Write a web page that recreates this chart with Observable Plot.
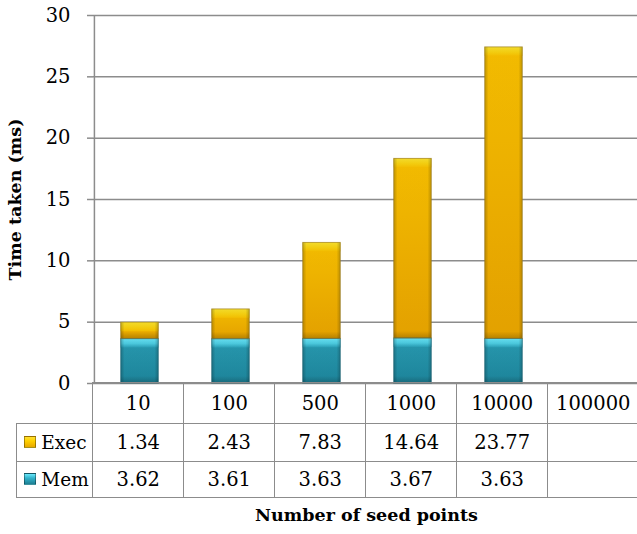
<!DOCTYPE html>
<html>
<head>
<meta charset="utf-8">
<script src="https://cdn.jsdelivr.net/npm/d3@7"></script>
<script src="https://cdn.jsdelivr.net/npm/@observablehq/plot@0.6"></script>
<style>
  body { margin: 0; background: #fff; overflow: hidden; font-family: "DejaVu Serif", serif; color: #000; }
  #wrap { position: relative; width: 637px; height: 534px; overflow: hidden; background: #fff; }
  #chart { position: absolute; left: 0; top: 0; }
  table.data { position: absolute; border-collapse: collapse; table-layout: fixed; font-size: 19.5px; font-family: "DejaVu Serif", serif; }
  table.data td { border: 1.5px solid #8c8c8c; text-align: center; padding: 0; white-space: nowrap; }
  table.data td.corner { border-top: none; border-left: none; }
  table.data td.key { text-align: left; padding-left: 7px; font-size: 18.5px; }
  .swatch { display: inline-block; width: 10px; height: 10px; margin-right: 5px; vertical-align: 1px; border: 1px solid rgba(0,0,0,0.35); }
  .swatch.Exec { background: linear-gradient(#ffe030 0%, #ffd000 40%, #e8a800 100%); }
  .swatch.Mem { background: linear-gradient(#6ae8fb 0%, #33b4cc 40%, #1d7f93 100%); }
  #xtitle { position: absolute; font-weight: bold; font-size: 17.5px; text-align: center; font-family: "DejaVu Serif", serif; }
</style>
</head>
<body>
<div id="wrap"><div id="chart"></div></div>
<script>
// Seed-point counts along the x axis
const categories = ["10", "100", "500", "1000", "10000", "100000"];
// Time split per run (ms); the largest count has no measurement
const execValues = [1.34, 2.43, 7.83, 14.64, 23.77, null];
const memValues = [3.62, 3.61, 3.63, 3.67, 3.63, null];
// Stacking order from the bottom up, and the legend order of the table rows
const stackOrder = ["Mem", "Exec"];
const tableRows = ["Exec", "Mem"];
const yTicks = [0, 5, 10, 15, 20, 25, 30];
const yTitle = "Time taken (ms)";
const xTitle = "Number of seed points";

const seriesValues = { Exec: execValues, Mem: memValues };

// Long-format rows with the running stack bounds of each segment
const rows = [];
categories.forEach((cat, i) => {
  let base = 0;
  for (const s of stackOrder) {
    const v = seriesValues[s][i];
    if (v == null) continue;
    rows.push({ cat, series: s, value: v, bottom: base, top: base + v });
    base += v;
  }
});

const grey = "#8c8c8c";
const inset = 26.7;
const fontFamily = "'DejaVu Serif', serif";

// Gradient definitions for the bevelled bar look
const defs = () => {
  const d = d3.create("svg:defs");
  const grad = (id, stops, vertical) => {
    const g = d.append("linearGradient").attr("id", id)
      .attr("x1", 0).attr("y1", 0).attr("x2", vertical ? 0 : 1).attr("y2", vertical ? 1 : 0);
    for (const [o, c, a = 1] of stops) g.append("stop").attr("offset", o).attr("stop-color", c).attr("stop-opacity", a);
  };
  grad("body-Exec", [[0, "#ffc500"], [1, "#efa900"]], true);
  grad("body-Mem", [[0, "#2aa0b8"], [1, "#1e8aa1"]], true);
  grad("top-Exec", [[0, "#ffe62e"], [0.55, "#ffd812"], [1, "#ffc600"]], true);
  grad("top-Mem", [[0, "#6ae9fc"], [0.55, "#4fd2e8"], [1, "#2aa3bb"]], true);
  grad("sides", [[0, "#000", 0.25], [0.1, "#000", 0.05], [0.9, "#000", 0.05], [1, "#000", 0.25]], false);
  grad("base", [[0, "#000", 0.0], [1, "#000", 0.2]], true);
  return d.node();
};

const chart = Plot.plot({
  width: 637,
  height: 400,
  marginTop: 15,
  marginBottom: 17,
  marginLeft: 93,
  marginRight: 0,
  style: { fontFamily, fontSize: "19px", color: "#000", background: "transparent" },
  x: { type: "band", domain: categories, range: [93, 640], padding: 0, axis: null },
  y: { domain: [0, 30], label: null },
  marks: [
    defs,
    Plot.gridY(yTicks, { stroke: grey, strokeOpacity: 1, strokeWidth: 1.5 }),
    Plot.axisY(yTicks, {
      tickSize: 6, tickPadding: 17, stroke: grey, strokeWidth: 1.5, fill: "#000",
      fontSize: 19.5, label: null, tickFormat: d => String(d)
    }),
    Plot.ruleX([0], { x: () => categories[0], dx: -(640 - 93) / categories.length / 2, stroke: grey, strokeWidth: 1.5 }),
    // Segment bodies
    Plot.barY(rows, {
      x: "cat", y1: "bottom", y2: "top",
      fill: d => `url(#body-${d.series})`,
      insetLeft: inset, insetRight: inset
    }),
    // Bright bevel strip along the top of each segment
    Plot.barY(rows, {
      x: "cat", y1: "top", y2: "top", fill: d => `url(#top-${d.series})`,
      insetLeft: inset, insetRight: inset, insetBottom: -9
    }),
    // Shade along the foot of each segment
    Plot.barY(rows, {
      x: "cat", y1: "bottom", y2: "bottom", fill: "url(#base)",
      insetLeft: inset, insetRight: inset, insetTop: -7
    }),
    // Darker side edges
    Plot.barY(rows, {
      x: "cat", y1: "bottom", y2: "top", fill: "url(#sides)",
      insetLeft: inset, insetRight: inset
    }),
    // Outline
    Plot.barY(rows, {
      x: "cat", y1: "bottom", y2: "top", fill: "none",
      stroke: d => d.series === "Exec" ? "#8f7428" : "#1d5f6c", strokeOpacity: 0.6, strokeWidth: 1,
      insetLeft: inset, insetRight: inset
    }),
    Plot.text([yTitle], {
      frameAnchor: "left", textAnchor: "middle", lineAnchor: "middle", rotate: -90, dx: -78,
      fontWeight: "bold", fontSize: 17.5, fill: "#000"
    })
  ]
});

const wrap = document.getElementById("wrap");
document.getElementById("chart").appendChild(chart);

// Data table under the plot, aligned to the band scale
const xs = chart.scale("x");
const ys = chart.scale("y");
const step = xs.step;
const x0 = xs.range[0];
const yBase = ys.apply(0);
const keyLeft = 17;

const table = document.createElement("table");
table.className = "data";
table.style.left = (keyLeft - 0.75) + "px";
table.style.top = (yBase - 0.75) + "px";
table.style.width = (x0 - keyLeft + step * categories.length) + "px";

const colgroup = document.createElement("colgroup");
const c0 = document.createElement("col");
c0.style.width = (x0 - keyLeft) + "px";
colgroup.appendChild(c0);
categories.forEach(() => {
  const c = document.createElement("col");
  c.style.width = step + "px";
  colgroup.appendChild(c);
});
table.appendChild(colgroup);

const head = table.insertRow();
head.style.height = "41px";
const corner = head.insertCell();
corner.className = "corner";
categories.forEach(c => { head.insertCell().textContent = c; });

const rowHeights = { Exec: "37.5px", Mem: "36px" };
for (const s of tableRows) {
  const tr = table.insertRow();
  tr.style.height = rowHeights[s];
  const key = tr.insertCell();
  key.className = "key";
  key.innerHTML = `<span class="swatch ${s}"></span>${s}`;
  seriesValues[s].forEach(v => { tr.insertCell().textContent = v == null ? "" : v.toFixed(2); });
}
wrap.appendChild(table);

const xt = document.createElement("div");
xt.id = "xtitle";
xt.textContent = xTitle;
xt.style.left = x0 + "px";
xt.style.width = (xs.range[1] - x0) + "px";
xt.style.top = "505px";
wrap.appendChild(xt);
</script>
</body>
</html>
